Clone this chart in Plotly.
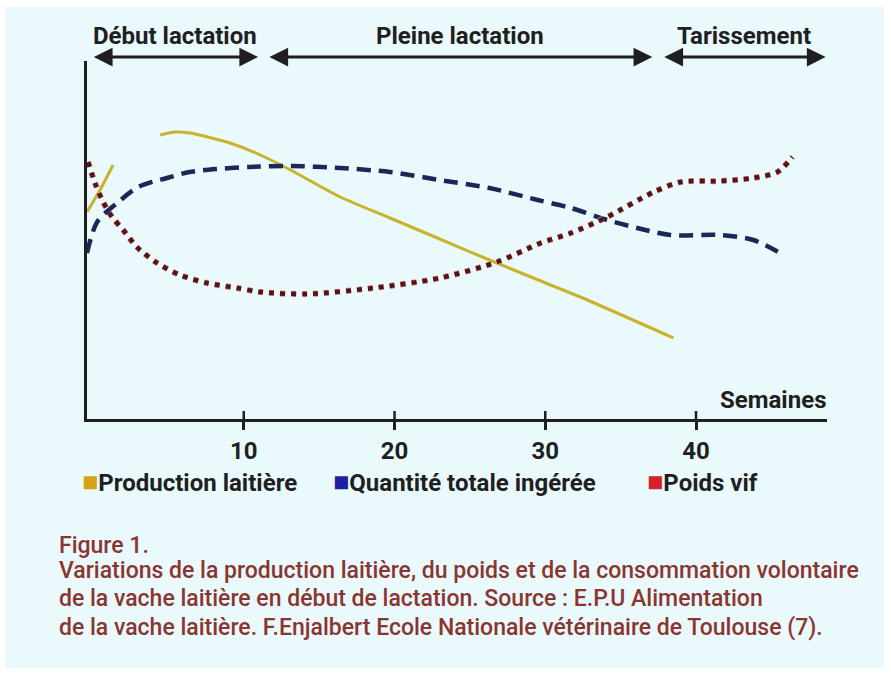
import plotly.graph_objects as go

# ---------------- data (arbitrary vertical units) ----------------
PROD_WEEKS = [-0.4, 0.46, 1.33, None, 4.45, 5.44, 6.44, 9.09, 11.1, 13.1, 16.4, 19.7, 23.0, 26.3, 29.7, 32.8, 38.5]
PROD_VALUES = [207, 229, 254, None, 284, 287, 286, 276, 264, 249, 222, 201, 180, 159, 138, 119, 81]

INTAKE_WEEKS = [-0.4, 0.27, 1.6, 3.0, 4.9, 6.4, 8.2, 10.4, 13.1, 16.4, 19.7, 23.0, 26.3, 29.5, 31.7, 34.1, 36.1, 38.3, 41.6, 43.8, 45.8]
INTAKE_VALUES = [166, 197, 216, 232, 241, 247, 250, 252, 253, 251, 247, 239, 231, 219, 211, 199, 191, 184, 184, 179, 164]

WEIGHT_WEEKS = [-0.33, 0.13, 0.6, 1.26, 2.0, 2.9, 4.25, 5.77, 7.56, 9.55, 11.1, 14.2, 18.6, 23.0, 26.8, 29.7, 31.7, 34.1, 37.2, 39.0, 41.6, 43.8, 45.4, 46.4]
WEIGHT_VALUES = [257, 236, 219, 202, 189, 172, 156, 144, 136, 131, 127, 125, 131, 141, 157, 176, 186, 202, 227, 237, 238, 241, 247, 262]

TICK_VALUES = [10, 20, 30, 40]
TICK_LABELS = ["10", "20", "30", "40"]

SERIES_NAMES = ["Production laitière", "Quantité totale ingérée", "Poids vif"]

PHASE_NAMES = ["Début lactation", "Pleine lactation", "Tarissement"]
PHASE_BOUNDS = [(-0.05, 10.95), (11.6, 37.1), (37.8, 48.6)]

AXIS_TITLE = "Semaines"
CAPTION_TITLE = "Figure 1."
CAPTION_LINES = [
    "Variations de la production laitière, du poids et de la consommation volontaire",
    "de la vache laitière en début de lactation. Source : E.P.U Alimentation",
    "de la vache laitière. F.Enjalbert Ecole Nationale vétérinaire de Toulouse (7).",
]

# ---------------- layout geometry ----------------
W, H = 891, 675
L, R, T, B = 84, 827, 61, 419
X_RANGE = [-0.6, 48.69]
Y_RANGE = [0, B - T]


def px(x):
    return (x - L) / (R - L)


def py(y):
    return (B - y) / (B - T)


FONT = "Roboto, 'Open Sans', sans-serif"
DARK = "#1f1f1f"
BG = "#e9f9fc"
CAPTION_COLOR = "#8b3530"
BOLD_SIZE = 24

fig = go.Figure()

fig.add_trace(go.Scatter(
    x=PROD_WEEKS, y=PROD_VALUES, mode="lines", name=SERIES_NAMES[0],
    line=dict(color="#c9b22c", width=3, shape="spline", smoothing=0.6),
    connectgaps=False, showlegend=False))

fig.add_trace(go.Scatter(
    x=INTAKE_WEEKS, y=INTAKE_VALUES, mode="lines", name=SERIES_NAMES[1],
    line=dict(color="#1c2757", width=4.5, dash="14px,8px", shape="spline", smoothing=0.8),
    showlegend=False))

fig.add_trace(go.Scatter(
    x=WEIGHT_WEEKS, y=WEIGHT_VALUES, mode="lines", name=SERIES_NAMES[2],
    line=dict(color="#e47a7c", width=6, dash="5px,6px", shape="spline", smoothing=0.8),
    showlegend=False, hoverinfo="skip"))
fig.add_trace(go.Scatter(
    x=WEIGHT_WEEKS, y=WEIGHT_VALUES, mode="lines", name=SERIES_NAMES[2],
    line=dict(color="#4e1718", width=4.5, dash="5px,6px", shape="spline", smoothing=0.8),
    showlegend=False))

shapes = []
# light-blue panel
shapes.append(dict(type="rect", xref="paper", yref="paper", layer="below",
                   x0=px(5), x1=px(884), y0=py(668), y1=py(7),
                   fillcolor=BG, line=dict(width=0)))
# vertical axis line
shapes.append(dict(type="line", xref="paper", yref="paper",
                   x0=px(85.5), x1=px(85.5), y0=0, y1=1,
                   line=dict(color=DARK, width=3)))
# upper half of the tick marks
for tv in TICK_VALUES:
    shapes.append(dict(type="line", xref="x", yref="y", x0=tv, x1=tv, y0=0, y1=8,
                       line=dict(color=DARK, width=2.5)))

annotations = []
# phase headers and double arrows
for name, (a, b) in zip(PHASE_NAMES, PHASE_BOUNDS):
    annotations.append(dict(x=(a + b) / 2, y=py(36), xref="x", yref="paper",
                            text=name, showarrow=False,
                            font=dict(family=FONT, size=BOLD_SIZE, color=DARK, weight="bold"),
                            xanchor="center", yanchor="middle"))
    annotations.append(dict(x=b, y=py(57), xref="x", yref="paper",
                            ax=a, ay=0, axref="x", ayref="pixel",
                            text="", showarrow=True, arrowside="end+start",
                            arrowhead=2, startarrowhead=2, arrowsize=1.25, startarrowsize=1.25,
                            arrowwidth=3, arrowcolor=DARK, standoff=0, startstandoff=0))

# axis title
annotations.append(dict(x=px(828), y=py(400), xref="paper", yref="paper",
                        text=AXIS_TITLE, showarrow=False,
                        font=dict(family=FONT, size=BOLD_SIZE, color=DARK, weight="bold"),
                        xanchor="right", yanchor="middle"))

# legend (square swatches)
LEGEND_COLORS = ["#d6a21a", "#1f1fa0", "#d4202a"]
LEGEND_X = [80, 331, 645]
for name, col, lx in zip(SERIES_NAMES, LEGEND_COLORS, LEGEND_X):
    annotations.append(dict(x=px(lx), y=py(482), xref="paper", yref="paper",
                            text=f"<span style='color:{col};font-size:27px'>■</span>{name}",
                            showarrow=False,
                            font=dict(family=FONT, size=BOLD_SIZE, color=DARK, weight="bold"),
                            xanchor="left", yanchor="middle"))

# caption
annotations.append(dict(x=px(57), y=py(545), xref="paper", yref="paper",
                        text=CAPTION_TITLE, showarrow=False,
                        font=dict(family=FONT, size=23, color=CAPTION_COLOR, weight=500),
                        xanchor="left", yanchor="middle"))
for i, line in enumerate(CAPTION_LINES):
    annotations.append(dict(x=px(57), y=py(570 + 28.5 * i), xref="paper", yref="paper",
                            text=line, showarrow=False,
                            font=dict(family=FONT, size=23, color=CAPTION_COLOR, weight=500),
                            xanchor="left", yanchor="middle"))

fig.update_layout(
    width=W, height=H,
    margin=dict(l=L, r=W - R, t=T, b=H - B, pad=0),
    paper_bgcolor="white", plot_bgcolor="rgba(0,0,0,0)",
    showlegend=False,
    shapes=shapes, annotations=annotations,
    xaxis=dict(range=X_RANGE, showgrid=False, zeroline=False,
               showline=True, linecolor=DARK, linewidth=3,
               tickmode="array", tickvals=TICK_VALUES, ticktext=TICK_LABELS,
               ticks="outside", ticklen=8, tickwidth=2.5, tickcolor=DARK,
               ticklabelstandoff=0,
               tickfont=dict(family=FONT, size=BOLD_SIZE, color=DARK, weight="bold")),
    yaxis=dict(range=Y_RANGE, showgrid=False, zeroline=False, showline=False,
               showticklabels=False, ticks=""),
)

fig.write_html("out.html", config={"displayModeBar": False},
               post_script="document.body.style.margin='0px';")
